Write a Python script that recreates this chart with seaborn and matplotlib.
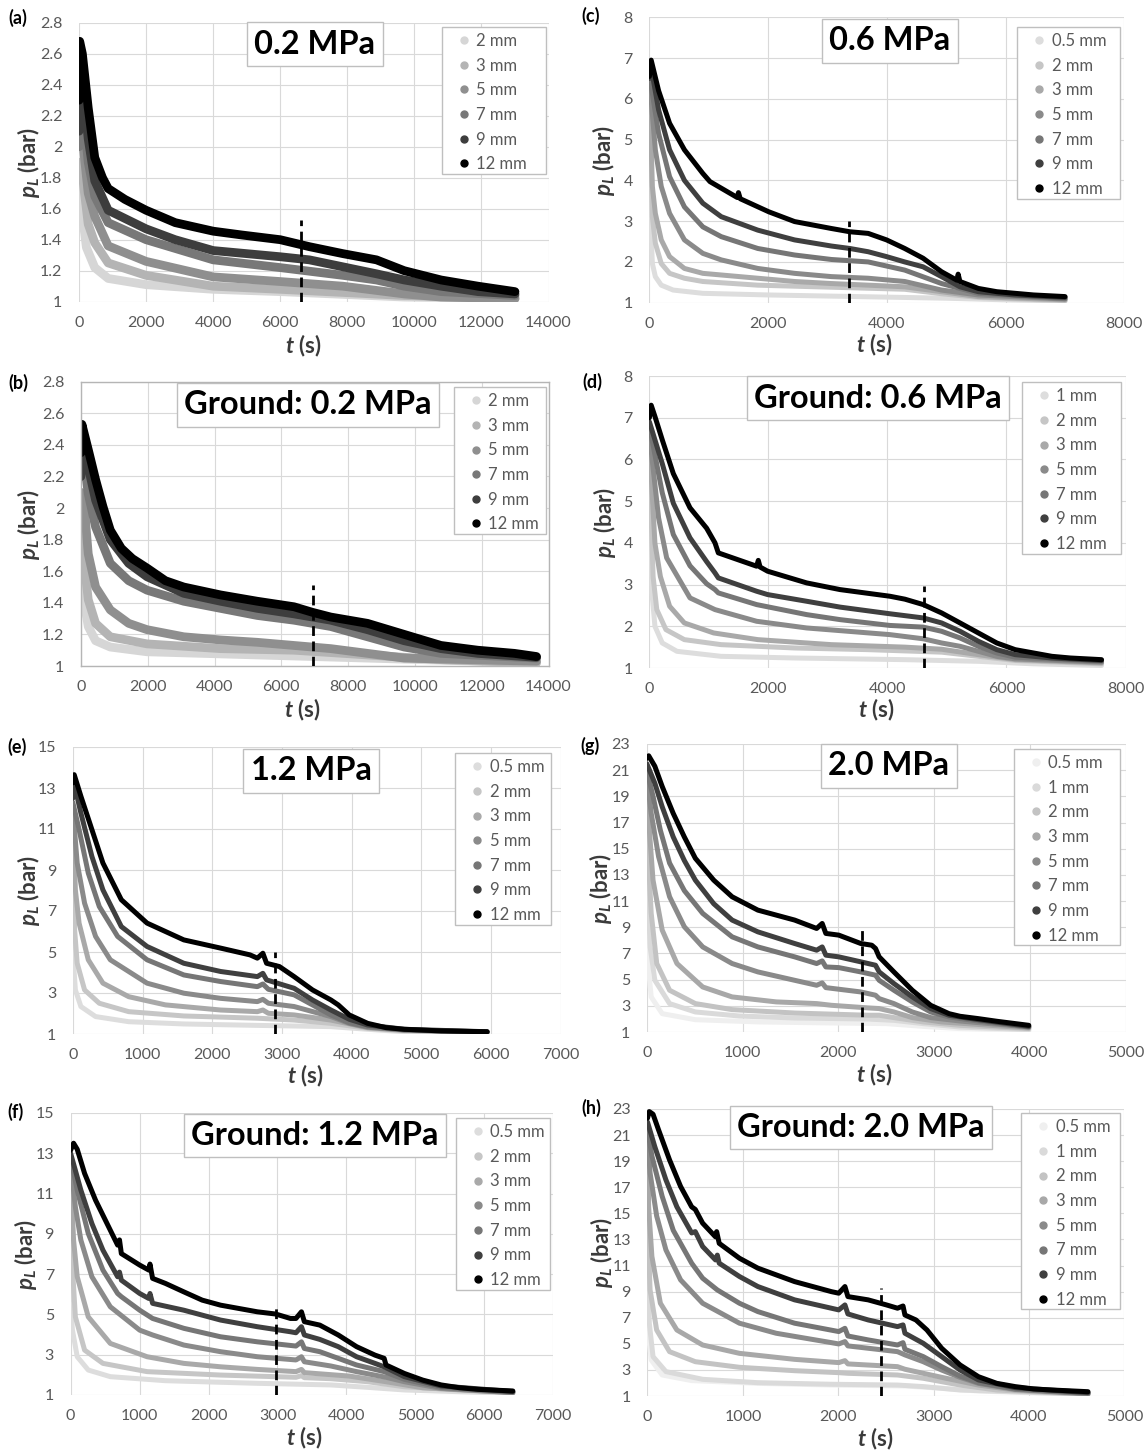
import matplotlib
matplotlib.use("Agg")
import numpy as np
import pandas as pd
import matplotlib.pyplot as plt
from matplotlib.lines import Line2D
from matplotlib.patches import Rectangle
import seaborn as sns

# ---------------- data: (t [s], p_L [bar]) ----------------
# (a) 0.2 MPa
a_2mm = [(0,1.80),(80,1.60),(220,1.35),(470,1.22),(870,1.15),(2000,1.11),(4000,1.08),(6000,1.065),(9700,1.03),(13000,1.02)]
a_3mm = [(0,1.90),(110,1.80),(275,1.50),(470,1.38),(870,1.25),(2000,1.17),(4000,1.10),(6000,1.08),(9700,1.04),(13000,1.02)]
a_5mm = [(0,2.0),(30,2.2),(275,1.70),(470,1.55),(870,1.36),(2000,1.26),(4000,1.16),(6000,1.13),(7870,1.10),(9700,1.05),(10800,1.03),(13000,1.02)]
a_7mm = [(0,2.0),(50,2.4),(275,1.90),(470,1.68),(870,1.51),(2000,1.40),(4000,1.27),(6000,1.22),(7870,1.17),(8870,1.14),(9700,1.10),(10800,1.065),(13000,1.04)]
a_9mm = [(0,2.1),(50,2.55),(275,2.05),(470,1.78),(870,1.59),(2000,1.47),(2870,1.40),(4000,1.33),(6000,1.29),(6870,1.27),(7870,1.225),(8870,1.18),(9700,1.14),(10800,1.10),(11900,1.065),(13000,1.05)]
a_12mm = [(0,2.3),(20,2.68),(100,2.6),(275,2.25),(470,1.93),(700,1.80),(870,1.73),(1370,1.66),(2000,1.59),(2870,1.51),(4000,1.455),(4870,1.43),(6000,1.40),(6870,1.355),(7870,1.31),(8870,1.27),(9700,1.20),(10800,1.14),(11900,1.10),(13000,1.065)]
a_labels = ["2 mm", "3 mm", "5 mm", "7 mm", "9 mm", "12 mm"]
a_dash = (6610, 1.53)

# (b) Ground: 0.2 MPa
b_2mm = [(0,1.7),(55,1.46),(220,1.25),(440,1.16),(880,1.12),(1980,1.09),(5280,1.07),(8580,1.05),(13640,1.02)]
b_3mm = [(0,1.9),(90,1.67),(220,1.42),(440,1.27),(880,1.185),(1980,1.14),(4180,1.11),(6380,1.10),(8580,1.07),(10780,1.04),(13640,1.02)]
b_5mm = [(0,2.1),(110,1.99),(220,1.71),(440,1.50),(880,1.355),(1430,1.27),(1980,1.23),(3080,1.185),(4180,1.165),(5280,1.15),(6380,1.13),(7480,1.11),(8580,1.08),(9680,1.05),(13640,1.03)]
b_7mm = [(0,2.2),(30,2.4),(220,2.09),(440,1.88),(880,1.65),(1430,1.54),(1980,1.48),(3080,1.41),(4180,1.365),(5280,1.32),(6380,1.29),(7480,1.25),(8580,1.185),(9680,1.12),(10780,1.08),(13640,1.05)]
b_9mm = [(0,2.2),(30,2.5),(220,2.26),(440,2.05),(880,1.80),(1430,1.65),(1980,1.565),(3080,1.46),(4180,1.41),(5280,1.365),(6380,1.33),(7480,1.29),(8580,1.23),(9680,1.16),(10780,1.11),(11880,1.08),(13640,1.055)]
b_12mm = [(0,2.35),(30,2.53),(220,2.37),(440,2.18),(660,2.01),(880,1.86),(1210,1.745),(1540,1.68),(1980,1.62),(2530,1.54),(3080,1.50),(4180,1.45),(5280,1.41),(6380,1.375),(6930,1.34),(7480,1.31),(8580,1.27),(9680,1.20),(10780,1.13),(11880,1.10),(12980,1.08),(13640,1.06)]
b_labels = ["2 mm", "3 mm", "5 mm", "7 mm", "9 mm", "12 mm"]
b_dash = (6950, 1.51)

# (c) 0.6 MPa
c_05mm = [(0,6.0),(20,3.0),(50,1.96),(100,1.64),(200,1.43),(400,1.31),(900,1.23),(2000,1.19),(3500,1.15),(5000,1.11),(6000,1.07),(7000,1.04)]
c_2mm = [(0,6.3),(50,3.11),(100,2.46),(200,1.96),(340,1.72),(590,1.60),(900,1.52),(1825,1.43),(3065,1.38),(4300,1.33),(4920,1.22),(5540,1.13),(7000,1.05)]
c_3mm = [(0,6.4),(50,3.85),(100,3.19),(200,2.54),(340,2.13),(590,1.84),(900,1.72),(1825,1.60),(2445,1.52),(3065,1.47),(3685,1.43),(4300,1.39),(4920,1.27),(5540,1.15),(7000,1.07)]
c_5mm = [(0,6.5),(100,4.75),(200,3.85),(340,3.19),(590,2.54),(900,2.21),(1210,2.05),(1825,1.84),(2445,1.72),(3065,1.64),(3685,1.60),(4300,1.52),(4920,1.31),(5540,1.19),(7000,1.09)]
c_7mm = [(0,6.6),(155,5.15),(340,4.09),(590,3.35),(900,2.86),(1210,2.62),(1825,2.33),(2445,2.17),(3065,2.06),(3685,2.0),(4300,1.80),(4920,1.47),(5540,1.23),(7000,1.1)]
c_9mm = [(0,6.5),(50,6.6),(155,5.73),(340,4.75),(590,4.0),(900,3.44),(1210,3.11),(1825,2.78),(2445,2.54),(3065,2.39),(3375,2.33),(3685,2.25),(3995,2.13),(4300,2.0),(4610,1.88),(4920,1.64),(5230,1.39),(5540,1.27),(6160,1.19),(7000,1.13)]
c_12mm = [(0,6.55),(30,6.95),(155,6.2),(340,5.4),(590,4.75),(900,4.17),(1020,3.97),(1480,3.58),(1500,3.70),(1530,3.55),(2010,3.23),(2445,2.99),(3065,2.82),(3375,2.74),(3685,2.70),(3995,2.54),(4300,2.33),(4610,2.09),(4920,1.76),(5180,1.55),(5200,1.70),(5230,1.52),(5540,1.35),(5850,1.27),(6160,1.23),(6470,1.19),(7000,1.15)]
c_labels = ["0.5 mm", "2 mm", "3 mm", "5 mm", "7 mm", "9 mm", "12 mm"]
c_dash = (3360, 3.0)

# (d) Ground: 0.6 MPa
d_1mm = [(0,5.0),(43,2.80),(93,2.0),(216,1.60),(463,1.40),(1204,1.28),(2440,1.24),(4293,1.20),(5528,1.16),(6455,1.10),(7597,1.06)]
d_2mm = [(0,6.0),(62,3.19),(124,2.40),(278,1.92),(587,1.68),(1204,1.56),(2440,1.48),(3675,1.44),(4910,1.38),(5528,1.28),(6146,1.18),(7597,1.10)]
d_3mm = [(0,6.4),(93,3.99),(185,3.19),(340,2.48),(587,2.08),(1080,1.84),(1822,1.68),(3057,1.56),(4293,1.50),(4910,1.45),(5528,1.32),(6146,1.20),(7597,1.12)]
d_5mm = [(0,6.6),(154,4.6),(290,3.64),(682,2.68),(1102,2.40),(1802,2.12),(2642,1.96),(4042,1.80),(4602,1.70),(4910,1.60),(5220,1.52),(5528,1.40),(5837,1.28),(6146,1.22),(7597,1.14)]
d_7mm = [(0,6.8),(216,5.2),(402,4.2),(682,3.45),(962,3.02),(1102,2.88),(1158,2.80),(1802,2.52),(2642,2.28),(3202,2.16),(4042,2.02),(4602,1.98),(4910,1.88),(5220,1.72),(5528,1.52),(5837,1.36),(6146,1.26),(7597,1.16)]
d_9mm = [(0,6.9),(216,5.9),(402,4.95),(682,4.12),(962,3.55),(1102,3.28),(1158,3.16),(1802,2.84),(1987,2.76),(2642,2.60),(3202,2.46),(4042,2.30),(4602,2.20),(4910,2.08),(5220,1.88),(5528,1.64),(5837,1.44),(6146,1.32),(6763,1.24),(7597,1.18)]
d_12mm = [(0,7.0),(30,7.3),(93,7.03),(216,6.47),(402,5.66),(682,4.84),(962,4.35),(1102,4.0),(1158,3.76),(1802,3.44),(1830,3.58),(1860,3.42),(1987,3.32),(2642,3.04),(3202,2.88),(4042,2.72),(4293,2.65),(4602,2.52),(4910,2.32),(5220,2.08),(5528,1.84),(5837,1.60),(6146,1.44),(6455,1.36),(6763,1.28),(7072,1.24),(7597,1.20)]
d_labels = ["1 mm", "2 mm", "3 mm", "5 mm", "7 mm", "9 mm", "12 mm"]
d_dash = (4620, 2.96)

# (e) 1.2 MPa
e_05mm = [(0,5.0),(37,3.15),(116,2.34),(327,1.85),(802,1.60),(1593,1.49),(2648,1.42),(3703,1.36),(4230,1.23),(4757,1.11),(5944,1.07)]
e_2mm = [(0,10.0),(26,6.08),(63,4.45),(169,3.15),(380,2.50),(802,2.09),(1593,1.88),(2648,1.77),(3175,1.68),(3703,1.52),(4230,1.28),(4757,1.16),(5944,1.07)]
e_3mm = [(0,11.5),(37,8.03),(90,6.41),(222,4.62),(432,3.48),(802,2.82),(1329,2.42),(2120,2.17),(2648,2.09),(2727,2.17),(2806,2.01),(3175,1.93),(3703,1.68),(4230,1.31),(4757,1.18),(5944,1.08)]
e_5mm = [(0,12.0),(63,9.34),(169,7.38),(327,5.76),(538,4.62),(1065,3.48),(1593,2.99),(2120,2.74),(2648,2.58),(2727,2.69),(2806,2.50),(3175,2.34),(3703,1.85),(3966,1.52),(4230,1.33),(4757,1.20),(5944,1.08)]
e_7mm = [(0,12.3),(90,10.97),(222,8.85),(380,7.22),(643,5.76),(1065,4.62),(1593,3.88),(2120,3.56),(2648,3.31),(2727,3.44),(2806,3.18),(3175,2.91),(3439,2.42),(3703,1.93),(3966,1.55),(4230,1.36),(4757,1.20),(5944,1.10)]
e_9mm = [(0,12.5),(20,13.2),(116,11.78),(274,9.66),(432,8.03),(696,6.24),(1065,5.27),(1593,4.45),(2120,4.05),(2648,3.80),(2727,3.96),(2780,3.64),(3175,3.23),(3439,2.66),(3703,2.17),(3966,1.72),(4230,1.44),(4757,1.23),(5944,1.11)]
e_12mm = [(0,13.25),(20,13.65),(116,12.6),(274,10.97),(432,9.34),(696,7.55),(1065,6.41),(1593,5.59),(2120,5.19),(2542,4.86),(2648,4.70),(2727,4.94),(2780,4.45),(2964,4.29),(3175,3.80),(3439,3.15),(3703,2.66),(3808,2.42),(3966,1.93),(4230,1.52),(4494,1.31),(4757,1.23),(5285,1.15),(5944,1.11)]
e_labels = ["0.5 mm", "2 mm", "3 mm", "5 mm", "7 mm", "9 mm", "12 mm"]
e_dash = (2900, 5.0)

# (f) Ground: 1.2 MPa
f_05mm = [(0,5.5),(27,4.22),(96,2.90),(256,2.24),(576,1.91),(1375,1.71),(2708,1.58),(3774,1.50),(4307,1.38),(4840,1.25),(6413,1.08)]
f_2mm = [(0,11.0),(32,7.03),(69,4.88),(203,3.23),(469,2.57),(1109,2.16),(2175,1.99),(3268,1.88),(3348,1.96),(3390,1.86),(3774,1.81),(4307,1.66),(4840,1.41),(6413,1.10)]
f_3mm = [(0,12.0),(43,8.69),(96,6.87),(256,4.88),(576,3.56),(1109,2.90),(1642,2.57),(2175,2.40),(2708,2.27),(3268,2.16),(3348,2.27),(3390,2.11),(4041,1.94),(4574,1.66),(5107,1.36),(6413,1.12)]
f_5mm = [(0,12.5),(69,10.34),(149,8.69),(309,6.87),(576,5.38),(1002,4.22),(1189,3.98),(1642,3.48),(2175,3.15),(2708,2.90),(3268,2.74),(3348,2.90),(3390,2.65),(3774,2.44),(4147,2.16),(4574,1.88),(4840,1.66),(5373,1.33),(6413,1.12)]
f_7mm = [(0,12.8),(96,11.17),(256,9.02),(469,7.20),(682,6.04),(736,5.88),(1002,5.21),(1189,4.80),(1642,4.31),(2175,3.89),(2708,3.64),(3268,3.43),(3348,3.64),(3390,3.31),(3614,3.15),(3881,2.82),(4147,2.49),(4547,2.16),(4840,1.78),(5373,1.38),(6413,1.13)]
f_9mm = [(0,13.0),(149,11.17),(309,9.51),(469,8.19),(682,6.87),(709,7.1),(736,6.70),(1002,6.04),(1135,5.79),(1151,6.04),(1189,5.55),(1642,5.21),(2175,4.72),(2708,4.39),(3188,4.14),(3268,4.09),(3348,4.39),(3390,3.98),(3614,3.76),(3881,3.40),(4147,2.90),(4414,2.57),(4547,2.40),(4840,1.91),(5373,1.45),(6413,1.17)]
f_12mm = [(0,13.15),(43,13.5),(96,13.2),(203,12.0),(362,10.67),(576,9.18),(682,8.44),(709,8.7),(736,8.02),(1002,7.45),(1135,7.2),(1151,7.5),(1189,6.79),(1375,6.54),(1642,6.12),(1908,5.71),(2175,5.46),(2708,5.13),(2974,5.02),(3188,4.80),(3268,4.80),(3348,5.13),(3390,4.64),(3614,4.47),(3881,3.98),(4147,3.40),(4414,2.98),(4547,2.82),(4574,2.49),(4840,2.07),(5107,1.74),(5373,1.50),(5640,1.36),(5906,1.28),(6413,1.20)]
f_labels = ["0.5 mm", "2 mm", "3 mm", "5 mm", "7 mm", "9 mm", "12 mm"]
f_dash = (2975, 5.41)

# (g) 2.0 MPa
g_05mm = [(0,10.0),(12,6.23),(46,3.68),(161,2.40),(507,1.94),(1160,1.77),(1928,1.69),(2504,1.64),(2888,1.43),(3272,1.26),(3990,1.13)]
g_1mm = [(0,18.0),(15,11.3),(35,7.5),(84,4.95),(238,3.17),(507,2.53),(968,2.22),(1544,2.07),(2312,1.99),(2581,1.89),(2888,1.64),(3272,1.38),(3990,1.18)]
g_2mm = [(0,19.0),(19,13.9),(46,10.06),(104,6.23),(238,4.19),(507,3.17),(891,2.71),(1544,2.45),(2312,2.28),(2427,2.28),(2581,2.10),(2888,1.77),(3272,1.51),(3990,1.26)]
g_3mm = [(0,20.0),(27,16.4),(65,12.6),(161,8.78),(315,6.23),(584,4.44),(891,3.68),(1352,3.30),(1774,3.17),(1928,3.04),(2312,2.84),(2427,2.79),(2581,2.53),(2773,2.10),(3080,1.77),(3990,1.31)]
g_5mm = [(0,20.5),(46,17.7),(123,14.4),(238,11.33),(392,9.04),(584,7.50),(891,6.23),(1160,5.59),(1544,4.95),(1774,4.57),(1832,4.75),(1870,4.39),(2235,4.06),(2389,3.81),(2427,3.55),(2581,3.17),(2773,2.53),(2965,2.10),(3272,1.84),(3990,1.38)]
g_7mm = [(0,21.0),(65,19.0),(142,16.4),(238,13.9),(392,11.8),(584,10.06),(891,8.27),(1160,7.5),(1544,6.74),(1774,6.23),(1832,6.43),(1870,5.97),(2005,5.92),(2235,5.59),(2389,5.34),(2427,4.95),(2581,4.19),(2773,3.30),(2965,2.53),(3157,2.15),(3464,1.84),(3990,1.38)]
g_9mm = [(0,21.5),(84,20.0),(161,18.2),(276,15.9),(392,14.1),(507,12.6),(699,10.8),(891,9.55),(1160,8.65),(1544,7.76),(1774,7.25),(1832,7.5),(1870,6.87),(2005,6.74),(2235,6.36),(2389,6.10),(2427,5.59),(2581,4.70),(2773,3.68),(2965,2.79),(3157,2.28),(3464,1.94),(3990,1.43)]
g_12mm = [(0,21.9),(20,22.1),(84,21.3),(161,19.75),(276,17.7),(392,15.9),(507,14.27),(699,12.6),(891,11.33),(1160,10.31),(1544,9.55),(1774,8.91),(1832,9.29),(1870,8.53),(2005,8.40),(2235,7.76),(2350,7.63),(2389,7.38),(2427,6.74),(2581,5.59),(2773,4.19),(2965,3.04),(3157,2.40),(3272,2.20),(3464,2.02),(3656,1.82),(3990,1.51)]
g_labels = ["0.5 mm", "1 mm", "2 mm", "3 mm", "5 mm", "7 mm", "9 mm", "12 mm"]
g_dash = (2247, 8.9)

# (h) Ground: 2.0 MPa
h_05mm = [(0,12.0),(4,6.06),(39,3.76),(154,2.61),(463,2.18),(1157,1.97),(1928,1.84),(2699,1.77),(3084,1.59),(3470,1.38),(4618,1.10)]
h_1mm = [(0,18.0),(4,10.4),(19,6.58),(58,4.02),(193,2.87),(578,2.28),(1157,2.02),(1928,1.90),(2621,1.84),(2891,1.72),(3277,1.46),(4618,1.13)]
h_2mm = [(0,19.5),(8,12.97),(27,9.13),(96,6.06),(231,4.40),(501,3.63),(964,3.20),(1542,2.94),(2005,2.79),(2101,2.74),(2621,2.61),(2891,2.36),(3277,1.84),(3662,1.46),(4618,1.13)]
h_3mm = [(0,20.5),(12,15.5),(46,11.7),(135,8.11),(308,6.06),(578,4.91),(964,4.27),(1542,3.81),(2005,3.56),(2070,3.71),(2101,3.46),(2621,3.25),(2699,3.05),(2891,2.74),(3084,2.43),(3470,1.84),(3855,1.46),(4618,1.15)]
h_5mm = [(0,21.0),(27,18.1),(96,14.8),(193,12.2),(347,9.9),(578,8.11),(964,6.58),(1349,5.81),(1928,5.09),(2005,4.99),(2070,5.17),(2101,4.84),(2621,4.40),(2699,4.15),(2891,3.63),(3084,2.99),(3277,2.43),(3470,1.97),(3855,1.51),(4618,1.18)]
h_7mm = [(0,21.5),(46,19.4),(154,16.3),(270,13.7),(463,11.18),(578,10.03),(732,9.13),(964,8.11),(1157,7.47),(1542,6.58),(2005,5.94),(2070,6.19),(2101,5.60),(2313,5.30),(2621,4.91),(2679,5.09),(2699,4.58),(2891,4.02),(3084,3.25),(3277,2.53),(3470,2.02),(3855,1.54),(4618,1.20)]
h_9mm = [(0,22.0),(77,20.1),(193,17.57),(308,15.5),(463,13.5),(501,13.6),(578,12.46),(713,11.43),(732,11.8),(752,11.18),(964,10.16),(1157,9.39),(1542,8.37),(2005,7.60),(2070,7.98),(2101,7.29),(2313,6.83),(2621,6.32),(2679,6.45),(2699,5.81),(2891,5.04),(3084,4.02),(3277,2.99),(3470,2.23),(3855,1.64),(4618,1.26)]
h_12mm = [(0,22.3),(19,22.8),(58,22.6),(116,21.4),(231,19.1),(347,17.06),(463,15.5),(501,15.3),(578,14.25),(713,13.2),(725,13.6),(752,12.7),(964,11.56),(1157,10.8),(1542,9.77),(1928,9.0),(2005,8.88),(2070,9.39),(2101,8.62),(2313,8.37),(2506,7.98),(2621,7.73),(2679,7.9),(2699,7.21),(2814,6.83),(2930,6.06),(3084,4.66),(3277,3.38),(3470,2.48),(3662,1.97),(3855,1.72),(4048,1.54),(4241,1.46),(4618,1.33)]
h_labels = ["0.5 mm", "1 mm", "2 mm", "3 mm", "5 mm", "7 mm", "9 mm", "12 mm"]
h_dash = (2448, 9.26)

titles = {"a": "0.2 MPa", "b": "Ground: 0.2 MPa", "c": "0.6 MPa", "d": "Ground: 0.6 MPa",
          "e": "1.2 MPa", "f": "Ground: 1.2 MPa", "g": "2.0 MPa", "h": "Ground: 2.0 MPa"}

# ---------------- styling ----------------
sns.set_style("white")
plt.rcParams["font.family"] = ["Lato", "DejaVu Sans"]
plt.rcParams["mathtext.fontset"] = "custom"
plt.rcParams["mathtext.it"] = "Lato:italic:bold"
plt.rcParams["mathtext.rm"] = "Lato:bold"
plt.rcParams["mathtext.bf"] = "Lato:bold"

six = ["#d6d6d6", "#b4b4b4", "#8f8f8f", "#787878", "#3d3d3d", "#000000"]
seven = ["#dddddd", "#c6c6c6", "#a9a9a9", "#8a8a8a", "#767676", "#3f3f3f", "#000000"]
eight = ["#efefef", "#dadada", "#c3c3c3", "#a8a8a8", "#8a8a8a", "#767676", "#3f3f3f", "#000000"]

W, H = 1148, 1451
fig = plt.figure(figsize=(W / 100, H / 100), dpi=100)
fig.patch.set_facecolor("white")

panels = [
    dict(k="a", series=[a_2mm, a_3mm, a_5mm, a_7mm, a_9mm, a_12mm], labels=a_labels, pal=six, dash=a_dash,
         rect=(79, 548.5, 22.7, 301.7), xmax=14000, xstep=2000, ylim=(1, 2.8), ystep=0.2, lw=6.3,
         title_c=(315, 44), leg=(442, 27, 546), plabel=(8, 18), ylab=(28.7, 162), xlab=(303, 346), border=False),
    dict(k="b", series=[b_2mm, b_3mm, b_5mm, b_7mm, b_9mm, b_12mm], labels=b_labels, pal=six, dash=b_dash,
         rect=(80.9, 548.5, 381.7, 666), xmax=14000, xstep=2000, ylim=(1, 2.8), ystep=0.2, lw=6.3,
         title_c=(308, 405), leg=(454, 387, 546), plabel=(8, 383), ylab=(28.5, 524), xlab=(302, 710), border=True),
    dict(k="c", series=[c_05mm, c_2mm, c_3mm, c_5mm, c_7mm, c_9mm, c_12mm], labels=c_labels, pal=seven, dash=c_dash,
         rect=(649.4, 1124.4, 17.3, 302.7), xmax=8000, xstep=2000, ylim=(1, 8), ystep=1, lw=3.6,
         title_c=(890, 41), leg=(1017, 27, 1120), plabel=(581, 16), ylab=(603.4, 160), xlab=(874, 345), border=False),
    dict(k="d", series=[d_1mm, d_2mm, d_3mm, d_5mm, d_7mm, d_9mm, d_12mm], labels=d_labels, pal=seven, dash=d_dash,
         rect=(649.4, 1125.5, 376, 668), xmax=8000, xstep=2000, ylim=(1, 8), ystep=1, lw=3.6,
         title_c=(878, 398), leg=(1022, 382, 1121), plabel=(582, 382), ylab=(605, 522), xlab=(876, 710), border=False),
    dict(k="e", series=[e_05mm, e_2mm, e_3mm, e_5mm, e_7mm, e_9mm, e_12mm], labels=e_labels, pal=seven, dash=e_dash,
         rect=(72.8, 560.7, 747, 1034), xmax=7000, xstep=1000, ylim=(1, 15), ystep=2, lw=3.6,
         title_c=(311, 771), leg=(455, 753, 551), plabel=(7, 747), ylab=(28.5, 890), xlab=(305, 1076), border=False),
    dict(k="f", series=[f_05mm, f_2mm, f_3mm, f_5mm, f_7mm, f_9mm, f_12mm], labels=f_labels, pal=seven, dash=f_dash,
         rect=(70.6, 553.3, 1113, 1395), xmax=7000, xstep=1000, ylim=(1, 15), ystep=2, lw=3.6,
         title_c=(315, 1135.5), leg=(456, 1118, 550), plabel=(7, 1112), ylab=(25.7, 1254), xlab=(304, 1438), border=False),
    dict(k="g", series=[g_05mm, g_1mm, g_2mm, g_3mm, g_5mm, g_7mm, g_9mm, g_12mm], labels=g_labels, pal=eight, dash=g_dash,
         rect=(646.8, 1125.5, 744, 1032), xmax=5000, xstep=1000, ylim=(1, 23), ystep=2, lw=3.6,
         title_c=(889, 766), leg=(1014, 749, 1120), plabel=(580, 746), ylab=(600, 888), xlab=(874, 1075), border=False),
    dict(k="h", series=[h_05mm, h_1mm, h_2mm, h_3mm, h_5mm, h_7mm, h_9mm, h_12mm], labels=h_labels, pal=eight, dash=h_dash,
         rect=(647.5, 1124.4, 1109, 1396), xmax=5000, xstep=1000, ylim=(1, 23), ystep=2, lw=3.6,
         title_c=(861, 1127.5), leg=(1021, 1113, 1120), plabel=(581, 1108), ylab=(601.6, 1252), xlab=(875, 1439), border=False),
]

TICK_C = "#595959"
LAB_C = "#3a3a3a"
LEG_FS = 12
ROW = 24.5

for P in panels:
    l, r, t, b = P["rect"]
    ax = fig.add_axes([l / W, 1 - b / H, (r - l) / W, (b - t) / H])
    frames = []
    for lab, pts in zip(P["labels"], P["series"]):
        arr = np.array(pts, dtype=float)
        frames.append(pd.DataFrame({"t": arr[:, 0], "p": arr[:, 1], "size": lab}))
    df = pd.concat(frames, ignore_index=True)
    sns.lineplot(data=df, x="t", y="p", hue="size", hue_order=P["labels"], palette=P["pal"],
                 sort=False, estimator=None, linewidth=P["lw"], legend=False, ax=ax,
                 solid_joinstyle="round", solid_capstyle="round")
    dt, dp = P["dash"]
    ax.plot([dt, dt], [P["ylim"][0], dp], color="black", lw=2.0, ls=(0, (3.5, 2.0)), zorder=5)

    ax.set_xlim(0, P["xmax"])
    ax.set_ylim(*P["ylim"])
    ax.set_xticks(np.arange(0, P["xmax"] + 1, P["xstep"]))
    yt = np.arange(P["ylim"][0], P["ylim"][1] + 1e-9, P["ystep"])
    ax.set_yticks(yt)
    ax.set_yticklabels([f"{v:g}" for v in np.round(yt, 2)])
    ax.set_xticklabels([f"{int(v)}" for v in ax.get_xticks()])
    ax.tick_params(axis="both", length=0, labelsize=11.5, labelcolor=TICK_C)
    ax.tick_params(axis="x", pad=10)
    ax.tick_params(axis="y", pad=12)
    ax.grid(True, color="#d9d9d9", lw=0.8)
    ax.set_axisbelow(True)
    ax.set_xlabel("")
    ax.set_ylabel("")
    for s in ax.spines.values():
        if P["border"]:
            s.set_visible(True)
            s.set_color("#b5b5b5")
            s.set_linewidth(1.0)
        else:
            s.set_visible(False)

    # axis titles
    yx, yy = P["ylab"]
    fig.text(yx / W, 1 - yy / H, r"$p_L$ (bar)", rotation=90, ha="center", va="center",
             fontsize=16, fontweight="bold", color=LAB_C)
    xx, xy = P["xlab"]
    fig.text(xx / W, 1 - xy / H, r"$t$ (s)", ha="center", va="center",
             fontsize=16, fontweight="bold", color=LAB_C)

    # panel letter
    px, py = P["plabel"]
    fig.text(px / W, 1 - py / H, f"({P['k']})", ha="left", va="center",
             fontsize=13, fontweight="bold", color="black")

    # title box
    cx, cy = P["title_c"]
    fig.text(cx / W, 1 - cy / H, titles[P["k"]], ha="center", va="center", fontsize=23.5,
             fontweight="bold", color="black", zorder=10,
             bbox=dict(boxstyle="square,pad=0.22", fc="white", ec="#bfbfbf", lw=1.0))

    # legend: frame drawn as a rectangle, entries placed inside it
    lx0, ly0, lx1 = P["leg"]
    n = len(P["labels"])
    box_h = n * ROW
    fig.add_artist(Rectangle((lx0 / W, 1 - (ly0 + box_h) / H), (lx1 - lx0) / W, box_h / H,
                             transform=fig.transFigure, fc="white", ec="#bfbfbf", lw=1.0, zorder=4))
    handles = [Line2D([], [], ls="none", marker="o", ms=5, mfc=c, mec=c) for c in P["pal"]]
    leg = fig.legend(handles, P["labels"], loc="upper left",
                     bbox_to_anchor=((lx0 + 17) / W, 1 - (ly0 + 6) / H),
                     bbox_transform=fig.transFigure, frameon=False,
                     fontsize=LEG_FS, labelcolor=TICK_C, labelspacing=0.52,
                     handlelength=0.6, handletextpad=0.45, borderpad=0, borderaxespad=0)
    leg.set_zorder(6)

fig.savefig("out.png", dpi=100, facecolor="white")
